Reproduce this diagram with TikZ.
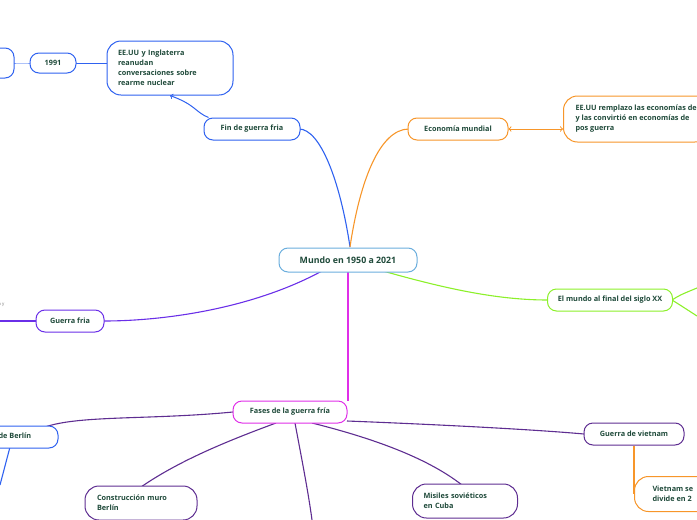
\documentclass[tikz,border=0pt]{standalone}
\usepackage{fontspec}
\setmainfont{Open Sans}[BoldFont={* Bold}]
\usetikzlibrary{positioning}
\definecolor{txt}{HTML}{1F4A3A}
\definecolor{cblue}{HTML}{2F62F0}
\definecolor{clight}{HTML}{6BAEDD}
\definecolor{corange}{HTML}{F7962A}
\definecolor{cgreen}{HTML}{8CF02A}
\definecolor{cpurple}{HTML}{6A2FE8}
\definecolor{cmag}{HTML}{E02FE8}
\definecolor{cdark}{HTML}{5E2D91}
\begin{document}
\begin{tikzpicture}[x=1pt,y=-1pt,
    topic/.style={draw,rounded corners=9pt,line width=1pt,fill=white,text=txt,
      font=\bfseries\fontsize{7.3}{10}\selectfont,inner sep=0pt},
    branch/.style={line width=1.1pt}]
	% frame
	\useasboundingbox (0,0) rectangle (697,520);
	\clip (0,0) rectangle (697,520);
	
	% free ends
	\coordinate (fa) at (312,520);
	\coordinate (ba) at (0,485);
	\coordinate (ga) at (0,321);
	\coordinate (sa) at (697,288);
	\coordinate (sb) at (697,316);
	
	% connectors first, boxes on top
	\draw[branch,cblue] (350,247) .. controls (340,180) and (320,129) .. (299,129);
	\draw[branch,corange] (350,247) .. controls (360,180) and (380,129) .. (409,129);
	\draw[branch,cgreen] (383,271) .. controls (450,290) and (500,300) .. (548,300);
	\draw[branch,cpurple] (322,271) .. controls (250,310) and (160,321) .. (104,321);
	\draw[branch,cmag] (348,272) -- (348,401);
	\draw[branch,cpurple] (36,321) -- (ga);
	\draw[branch,cgreen] (672,300) .. controls (680,295) .. (sa);
	\draw[branch,cgreen] (672,300) .. controls (680,305) .. (sb);
	\draw[branch,cdark] (233,412) .. controls (150,420) and (80,415) .. (45,427);
	\draw[branch,cdark] (276,423) .. controls (230,440) and (180,460) .. (141,487);
	\draw[branch,cdark] (295,423) .. controls (300,450) and (308,490) .. (fa);
	\draw[branch,cdark] (312,423) .. controls (380,440) and (430,460) .. (462,485);
	\draw[branch,cdark] (347,421) .. controls (450,425) and (540,430) .. (584,434);
	\draw[branch,corange] (634,446) -- (634,494);
	\draw[branch,cblue] (10,447) -- (ba);
	\draw[cblue,line width=0.8pt] (76,63) -- (108,63);
	\draw[cblue!60,line width=0.8pt] (14,63) .. controls (20,63) .. (30,63);
	
	% central topic
	\node[topic,draw=clight,minimum width=138pt,minimum height=24pt,
	  font=\bfseries\fontsize{8.8}{10}\selectfont] (mundo) at (348,260) {Mundo en 1950 a 2021};
	
	% main branches
	\node[topic,draw=cblue,minimum width=96pt,minimum height=22pt] (fin) at (252,129) {Fin de guerra fria};
	\node[topic,draw=corange,minimum width=100pt,minimum height=22pt] (eco) at (458,129) {Economía mundial};
	\node[topic,draw=cgreen,minimum width=125pt,minimum height=22pt] (siglo) at (610,300) {El mundo al final del siglo XX};
	\node[topic,draw=cpurple,minimum width=68pt,minimum height=22pt] (gfria) at (70,321) {Guerra fria};
	\node[topic,draw=cmag,minimum width=114pt,minimum height=22pt] (fases) at (290,412) {Fases de la guerra fría};
	
	% sub topics
	\node[topic,rounded corners=14pt,draw=cblue,minimum width=126pt,minimum height=54pt,
	  align=left,text width=104pt] (rearme) at (170,68)
	  {EE.UU y Inglaterra\\reanudan\\conversaciones sobre\\rearme nuclear};
	\node[topic,draw=cblue,minimum width=46pt,minimum height=20pt] (anio) at (53,63) {1991};
	\node[topic,draw=cblue,minimum width=40pt,minimum height=30pt] (prev) at (-6,63) {};
	\node[topic,rounded corners=14pt,draw=corange,minimum height=46pt,anchor=west,
	  align=left,inner xsep=12pt] (remplazo) at (563,119)
	  {EE.UU remplazo las economías de\\y las convirtió en economías de\\pos guerra};
	\node[topic,draw=cblue,minimum width=118pt,minimum height=22pt] (bloqueo) at (-1,437) {Bloqueo de Berlín};
	\node[topic,rounded corners=14pt,draw=cdark,minimum width=112pt,minimum height=34pt,
	  align=left,text width=88pt] (muro) at (141,503) {Construcción muro\\Berlín};
	\node[topic,rounded corners=14pt,draw=cdark,minimum width=105pt,minimum height=34pt,
	  align=left,text width=83pt] (misiles) at (465,501) {Misiles soviéticos\\en Cuba};
	\node[topic,draw=cdark,minimum width=100pt,minimum height=22pt] (vietnam) at (634,434) {Guerra de vietnam};
	\node[topic,rounded corners=14pt,draw=corange,minimum height=35pt,anchor=west,
	  align=left,inner xsep=18pt] (divide) at (634,494) {Vietnam se\\divide en 2};
	\node[text=gray,font=\fontsize{4.5}{6}\selectfont,align=left,anchor=west,inner sep=0pt] (resto) at (-2,302) {s\\n y};
	
	% links with tips
	\draw[cblue,line width=1pt,->] (fin.north west) ++(5,0) .. controls (195,112) and (196,105) .. (rearme.south);
	\draw[corange,line width=1pt,<->] (eco.east) -- (remplazo.west |- eco.east);
\end{tikzpicture}
\end{document}
